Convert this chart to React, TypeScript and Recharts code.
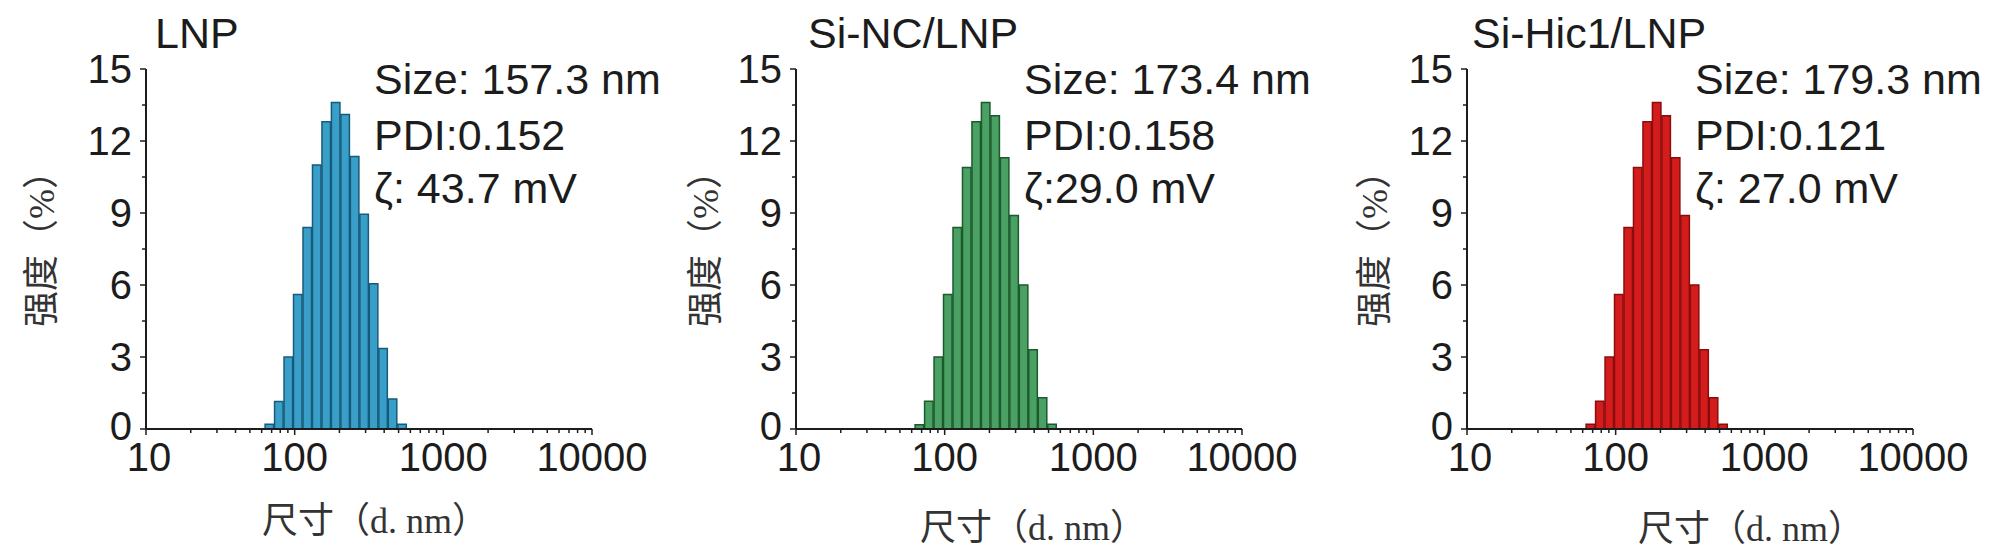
import { BarChart, Bar, XAxis, YAxis } from "recharts";

// DLS size bins (nm) and intensity (%)
const sizeBins = [68.06, 78.82, 91.28, 105.7, 122.4, 141.8, 164.2, 190.1, 220.2, 255.0, 295.3, 342.0, 396.1, 458.7, 531.2];
const lnpIntensity = [0.2, 1.15, 3.0, 5.6, 8.4, 11.0, 12.8, 13.6, 13.1, 11.35, 8.95, 6.05, 3.35, 1.25, 0.2];
const siNcIntensity = [0.18, 1.16, 3.0, 5.6, 8.4, 10.9, 12.8, 13.6, 13.05, 11.3, 8.9, 6.0, 3.3, 1.3, 0.2];
const siHicIntensity = [0.2, 1.16, 3.0, 5.6, 8.4, 10.9, 12.8, 13.6, 13.05, 11.3, 8.9, 6.0, 3.3, 1.3, 0.2];

const xMajorTicks = [10, 100, 1000, 10000];
const xMinorSteps = [2, 3, 4, 5, 6, 7, 8, 9];
const yTicks = [0, 1.5, 3, 4.5, 6, 7.5, 9, 10.5, 12, 13.5, 15];
const yLabelTicks = [0, 3, 6, 9, 12, 15];

const xTicks = [
  ...xMajorTicks,
  ...xMajorTicks.slice(0, 3).flatMap((d) => xMinorSteps.map((m) => d * m)),
].sort((a, b) => a - b);

const titles = ["LNP", "Si-NC/LNP", "Si-Hic1/LNP"];
const sizeLines = ["Size: 157.3 nm", "Size: 173.4 nm", "Size: 179.3 nm"];
const pdiLines = ["PDI:0.152", "PDI:0.158", "PDI:0.121"];
const zetaLines = ["ζ: 43.7 mV", "ζ:29.0 mV", "ζ: 27.0 mV"];

const panels = [
  { values: lnpIntensity, fill: "#3a9fc8", stroke: "#165b7a", axisX: 146, titleX: 155, yLabelX: 42, xLabelX: 262, xLabelY: 533 },
  { values: siNcIntensity, fill: "#4ba063", stroke: "#1b5a2d", axisX: 796, titleX: 808, yLabelX: 706, xLabelX: 920, xLabelY: 540 },
  { values: siHicIntensity, fill: "#d41c1c", stroke: "#8a0d0d", axisX: 1467, titleX: 1472, yLabelX: 1375, xLabelX: 1638, xLabelY: 541 },
];

const PLOT_W = 446;
const PLOT_TOP = 69;
const PLOT_BOTTOM = 429;
const AXIS_W = 20;
const AXIS_H = 20;
const INK = "#1c1c1c";
const SANS = "'Liberation Sans', Arial, sans-serif";
const CJK = "'Liberation Serif', 'Noto Sans CJK SC', serif";

const XTick = ({ x, y, payload }: any) => {
  const major = xMajorTicks.includes(payload.value);
  return (
    <g>
      <line x1={x} x2={x} y1={y} y2={y + (major ? 6 : 4)} stroke={INK} strokeWidth={1.5} />
      {major && (
        <text x={x + (payload.value === 10 ? 3 : 0)} y={y + 42} textAnchor="middle" fontSize={40} fontFamily={SANS} fill={INK}>
          {payload.value}
        </text>
      )}
    </g>
  );
};

const YTick = ({ x, y, payload }: any) => {
  const major = yLabelTicks.includes(payload.value);
  return (
    <g>
      <line x1={x - (major ? 6 : 4)} x2={x} y1={y} y2={y} stroke={INK} strokeWidth={1.5} />
      {major && (
        <text x={x - 14} y={y + (payload.value === 0 ? 11 : 14)} textAnchor="end" fontSize={40} fontFamily={SANS} fill={INK}>
          {payload.value}
        </text>
      )}
    </g>
  );
};

function Panel({ idx }: { idx: number }) {
  const p = panels[idx];
  const data = sizeBins.map((size, i) => ({ size, value: p.values[i] }));
  return (
    <div style={{ position: "absolute", left: 0, top: 0 }}>
      <BarChart
        width={2000}
        height={560}
        data={data}
        margin={{
          top: PLOT_TOP,
          bottom: 560 - PLOT_BOTTOM - AXIS_H,
          left: p.axisX - AXIS_W,
          right: 2000 - p.axisX - PLOT_W,
        }}
      >
        <XAxis
          dataKey="size"
          type="number"
          scale="log"
          domain={[10, 10000]}
          ticks={xTicks}
          interval={0}
          height={AXIS_H}
          tickSize={0}
          tickMargin={0}
          allowDataOverflow
          axisLine={{ stroke: INK, strokeWidth: 2 }}
          tickLine={false}
          tick={(props: any) => <XTick {...props} />}
        />
        <YAxis
          type="number"
          domain={[0, 15]}
          ticks={yTicks}
          interval={0}
          width={AXIS_W}
          tickSize={0}
          tickMargin={0}
          axisLine={{ stroke: INK, strokeWidth: 2 }}
          tickLine={false}
          tick={(props: any) => <YTick {...props} />}
        />
        <Bar
          dataKey="value"
          fill={p.fill}
          stroke={p.stroke}
          strokeWidth={1.5}
          barSize={9.5}
          isAnimationActive={false}
        />
      </BarChart>
    </div>
  );
}

export default function App() {
  return (
    <div style={{ position: "absolute", left: 0, top: 0, width: 2000, height: 560, background: "#fff" }}>
      {panels.map((_, i) => (
        <Panel key={i} idx={i} />
      ))}
      <svg width={2000} height={560} style={{ position: "absolute", left: 0, top: 0, pointerEvents: "none" }}>
        {panels.map((p, i) => (
          <g key={i}>
            <text x={p.titleX} y={48} fontSize={43} fontFamily={SANS} fill={INK}>
              {titles[i]}
            </text>
            <text x={p.axisX + 228} y={94} fontSize={43} fontFamily={SANS} fill={INK}>
              {sizeLines[i]}
            </text>
            <text x={p.axisX + 228} y={150} fontSize={43} fontFamily={SANS} fill={INK}>
              {pdiLines[i]}
            </text>
            <text x={p.axisX + 228} y={203} fontSize={43} fontFamily={SANS} fill={INK}>
              {zetaLines[i]}
            </text>
            <text
              x={p.yLabelX}
              y={240}
              fontSize={36}
              fontFamily={CJK}
              fill="#333"
              textAnchor="middle"
              dominantBaseline="central"
              transform={`rotate(-90 ${p.yLabelX} 240)`}
            >
              强度（%）
            </text>
            <text x={p.xLabelX} y={p.xLabelY} fontSize={36} fontFamily={CJK} fill="#333">
              尺寸（d. nm）
            </text>
          </g>
        ))}
      </svg>
    </div>
  );
}
